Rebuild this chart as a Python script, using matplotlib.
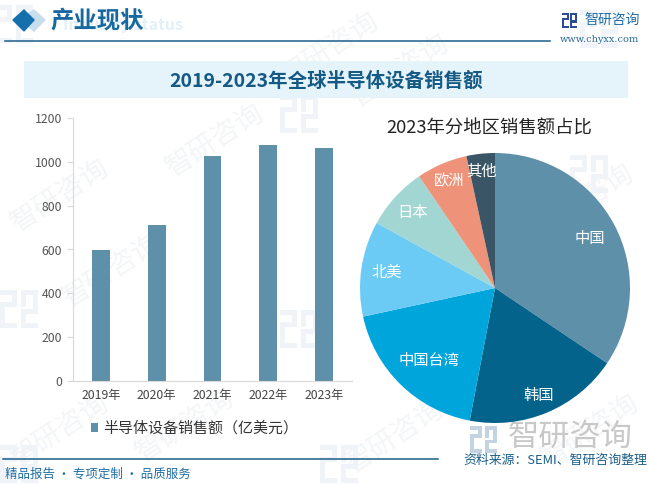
#encoding:utf8
import matplotlib
matplotlib.use('Agg')
import matplotlib.pyplot as plt
from matplotlib.patches import Polygon, Rectangle

plt.rcParams['font.family'] = ['Noto Sans CJK SC', 'DejaVu Sans']

# 柱状图数据
years = ['2019年', '2020年', '2021年', '2022年', '2023年']
sales = [596, 711, 1026, 1076, 1063]
y_ticks = [0, 200, 400, 600, 800, 1000, 1200]

# 饼图数据
regions = ['中国', '韩国', '中国台湾', '北美', '日本', '欧洲', '其他']
shares = [34.4, 18.6, 18.6, 11.4, 7.5, 6.1, 3.4]
pie_colors = ['#5f90a9', '#03638a', '#00a5dc', '#6bcbf5', '#a1d6d3', '#ee937a', '#3a5565']

W, H = 652, 486
fig = plt.figure(figsize=(W / 100, H / 100), dpi=100)

# 整张图的像素坐标层,放水印和页眉页脚
bg = fig.add_axes([0, 0, 1, 1])
bg.set_xlim(0, W)
bg.set_ylim(H, 0)
bg.axis('off')


def small_logo(ax, x, y, s, c, alpha=1.0, z=1):
    # 智研的方块logo,用几个矩形拼
    rects = [(0, 0, .45, .14), (.31, 0, .14, .45), (0, .31, .45, .14), (0, .31, .14, .69),
             (0, .86, .45, .14), (.55, 0, .45, .14), (.55, 0, .14, .45), (.86, 0, .14, .6),
             (.55, .5, .45, .14), (.55, .5, .14, .5), (.55, .86, .45, .14)]
    for r in rects:
        ax.add_patch(Rectangle((x + r[0] * s, y + r[1] * s), r[2] * s, r[3] * s,
                               color=c, alpha=alpha, lw=0, zorder=z))


# 水印
wm_text = [(185, 425), (112, 270), (215, 140), (400, 70), (395, 436), (585, 200), (60, 195), (330, 48), (60, 430), (590, 430)]
for x, y in wm_text:
    bg.text(x, y, '智研咨询', fontsize=20, color='#f3f5f7', rotation=33,
            ha='center', va='center', zorder=1)
wm_logo = [(15, 25), (300, 115), (600, 30), (590, 175), (20, 310), (300, 330), (20, 465), (340, 465), (600, 330)]
for x, y in wm_logo:
    small_logo(bg, x - 20, y - 20, 38, '#f0f4f8', z=1)

# 页眉
bg.add_patch(Polygon([(13, 20), (24, 10), (34, 20), (24, 31)], color='#1470ad', zorder=3))
bg.add_patch(Polygon([(28, 14), (34, 10), (45, 20), (34, 31), (28, 26), (34, 20)], color='#c9deec', zorder=2))
bg.text(63, 25, 'Industry status', fontsize=11.5, color='#e3f0f9', weight='bold', va='center', ha='left', zorder=2)
bg.text(50, 21, '产业现状', fontsize=16.8, color='#17699f', weight='bold', va='center', ha='left', zorder=3)
bg.plot([5, 550], [41, 41], color='#1b5f8a', lw=1.1, zorder=3)
small_logo(bg, 562, 13, 15, '#2b4d96', z=3)
bg.text(584, 20, '智研咨询', fontsize=10, color='#1f6ea6', va='center', ha='left', zorder=3)
bg.text(560, 40, 'www.chyxx.com', fontsize=7, color='#2a6b9a', family='DejaVu Serif', va='center', ha='left', zorder=3)

# 标题条
bg.add_patch(Rectangle((24, 61), 604, 37, color='#e5f3fb', lw=0, zorder=2))
bg.text(326, 81, '2019-2023年全球半导体设备销售额', fontsize=14, color='#155a85', weight='bold',
        va='center', ha='center', zorder=3)

# 页脚
bg.plot([3, 438], [459, 459], color='#1b5f8a', lw=1.1, zorder=3)
bg.text(5, 474, '精品报告 · 专项定制 · 品质服务', fontsize=9, color='#1f6ea6', va='center', ha='left', zorder=3)
small_logo(bg, 470, 426, 27, '#c3d3e2', z=2)
bg.text(508, 437, '智研咨询', fontsize=22.5, color='#c8c8c8', va='center', ha='left', zorder=2)
bg.text(463, 460, '资料来源：SEMI、智研咨询整理', fontsize=9.3, color='#1b5f8a', va='center', ha='left', zorder=3)

# 柱状图
ax = fig.add_axes([73 / W, 1 - 381 / H, 279 / W, 263 / H])
ax.patch.set_alpha(0)
ax.bar(range(len(years)), sales, width=0.32, color='#5f90a9', label='半导体设备销售额（亿美元）')
ax.set_xlim(-0.5, 4.5)
ax.set_ylim(0, 1200)
ax.set_xticks(range(len(years)))
ax.set_xticklabels(years, fontsize=8.8, color='#444444')
ax.set_yticks(y_ticks)
ax.tick_params(axis='y', labelsize=8.8, labelcolor='#555555', length=4, color='#d9d9d9', pad=4)
ax.tick_params(axis='x', length=0, pad=6)
for k in ['top', 'right']:
    ax.spines[k].set_visible(False)
ax.spines['left'].set_color('#d9d9d9')
ax.spines['bottom'].set_color('#d9d9d9')
ax.legend(loc='upper center', bbox_to_anchor=(0.435, -0.102), frameon=False, fontsize=10.8,
          handlelength=0.5, handleheight=0.5, handletextpad=0.3, labelcolor='#333333')

# 饼图
pie_ax = fig.add_axes([(495 - 135) / W, 1 - (288 + 135) / H, 270 / W, 270 / H])
wedges, _ = pie_ax.pie(shares, colors=pie_colors, startangle=90, counterclock=False, radius=1,
                       wedgeprops={'linewidth': 0})
pie_ax.set_xlim(-1, 1)
pie_ax.set_ylim(-1, 1)
label_pos = [(590, 238), (539, 395), (429, 360), (387, 272), (413, 213), (449, 181), (482, 171)]
for name, (x, y) in zip(regions, label_pos):
    fig.text(x / W, 1 - y / H, name, fontsize=11, color='white', ha='center', va='center', zorder=10)
fig.text(489 / W, 1 - 129 / H, '2023年分地区销售额占比', fontsize=13.2, color='#222222', ha='center', va='center')

fig.savefig('out.png', dpi=100)
